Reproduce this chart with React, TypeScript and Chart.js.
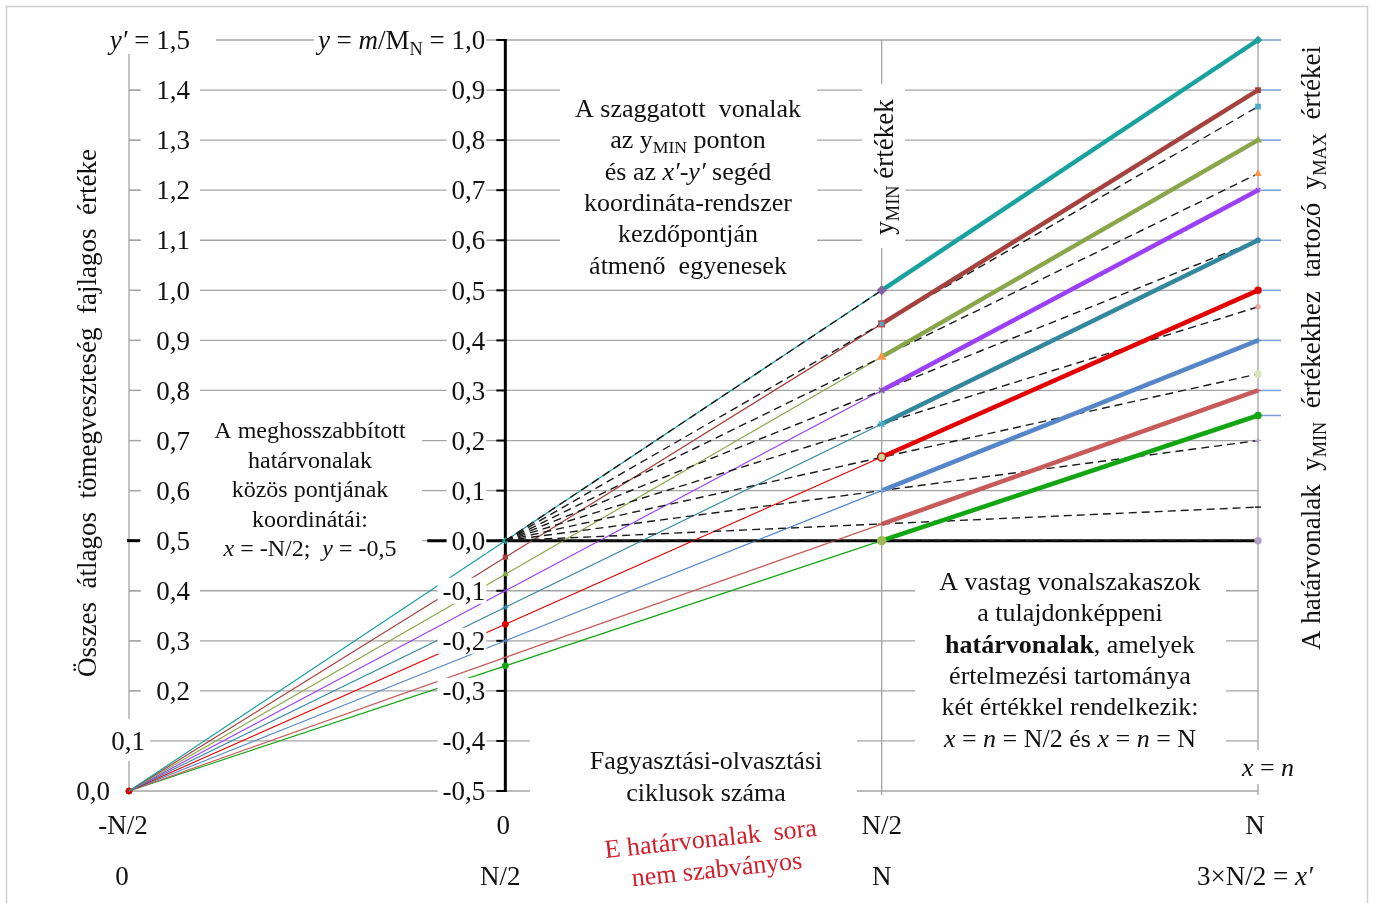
import React, { useEffect, useRef } from "react";
import { Chart, registerables } from "chart.js";
Chart.register(...registerables);

const FONT = '"Liberation Serif", "Times New Roman", serif';

// x measured in units of N:  -N/2 = -0.5, 0, N/2 = 0.5, N = 1
const xTickValues = [-0.5, 0, 0.5, 1];
const xTickLabelsN = ["-N/2", "0", "N/2", "N"];
const xTickLabelsPrime = ["0", "N/2", "N", "3×N/2 = x′"];

const yTickValues = [1.0, 0.9, 0.8, 0.7, 0.6, 0.5, 0.4, 0.3, 0.2, 0.1, 0.0, -0.1, -0.2, -0.3, -0.4, -0.5];
const yTickLabels = ["1,0", "0,9", "0,8", "0,7", "0,6", "0,5", "0,4", "0,3", "0,2", "0,1", "0,0", "-0,1", "-0,2", "-0,3", "-0,4", "-0,5"];
const yPrimeLabels = ["1,5", "1,4", "1,3", "1,2", "1,1", "1,0", "0,9", "0,8", "0,7", "0,6", "0,5", "0,4", "0,3", "0,2", "0,1", "0,0"];

// common point of the extended boundary lines
const commonX = -0.5;
const commonY = -0.5;
const xMinPoint = 0.5; // x = n = N/2
const xMaxPoint = 1; // x = n = N

const seriesColors = ["#17a19f", "#a5423e", "#8aa64b", "#9b40f7", "#33879f", "#e20000", "#5586c8", "#c75b5a", "#12a612"];
const yMinValues = [0.5, 0.433, 0.367, 0.3, 0.233, 0.167, 0.1, 0.033, 0.0];
const yMaxValues = [1.0, 0.9, 0.8, 0.7, 0.6, 0.5, 0.4, 0.3, 0.25];
const yAtZeroValues = [0.0, -0.033, -0.067, -0.1, -0.133, -0.167, -0.2, -0.233, -0.25];
const yDashEndValues = [1.0, 0.867, 0.733, 0.6, 0.467, 0.333, 0.2, 0.067, 0.0];

const markerStyles = ["rectRot", "rect", "triangle", "crossRot", "star", "circle", "cross", "line", "circle"];
const midMarkerFill = ["#8064a2", "#4bacc6", "#f79646", "#8064a2", "#4bacc6", "#c3d69b", "#4f81bd", "#93cddd", "#9bbb59"];
const midMarkerBorder = ["#8064a2", "#c0504d", "#f79646", "#8064a2", "#4bacc6", "#d00000", "#7f9fd0", "#c0504d", "#9bbb59"];
const dashMarkerColors = ["#8064a2", "#4bacc6", "#f79646", "#8064a2", "#e6a3a3", "#d7e4bd", "#b3a2c7", "#111111", "#b3a2c7"];
const startMarkerSizes = [0, 0, 0, 0, 0, 3, 0, 0, 3];

type Run = { t: string; i?: boolean; b?: boolean; sub?: boolean };
const R = (t: string, o: Partial<Run> = {}): Run => ({ t, ...o });

function setFont(ctx: CanvasRenderingContext2D, size: number, r: Run) {
  const s = r.sub ? size * 0.68 : size;
  ctx.font = `${r.i ? "italic " : ""}${r.b ? "bold " : ""}${s}px ${FONT}`;
}
function runsWidth(ctx: CanvasRenderingContext2D, runs: Run[], size: number) {
  let w = 0;
  for (const r of runs) {
    setFont(ctx, size, r);
    w += ctx.measureText(r.t).width;
  }
  return w;
}
function drawRuns(
  ctx: CanvasRenderingContext2D,
  runs: Run[],
  x: number,
  yc: number,
  size: number,
  color: string,
  align: "left" | "center" | "right",
  boxPad?: [number, number, number, number]
) {
  const w = runsWidth(ctx, runs, size);
  const x0 = align === "center" ? x - w / 2 : align === "right" ? x - w : x;
  if (boxPad) {
    ctx.fillStyle = "#ffffff";
    ctx.fillRect(x0 - boxPad[0], yc - boxPad[1], w + boxPad[0] + boxPad[2], boxPad[1] + boxPad[3]);
  }
  ctx.fillStyle = color;
  ctx.textAlign = "left";
  ctx.textBaseline = "alphabetic";
  const base = yc + size * 0.34;
  let cx = x0;
  for (const r of runs) {
    setFont(ctx, size, r);
    ctx.fillText(r.t, cx, r.sub ? base + size * 0.2 : base);
    cx += ctx.measureText(r.t).width;
  }
  return { left: x0, right: x0 + w };
}
function whiteBox(ctx: CanvasRenderingContext2D, l: number, t: number, r: number, b: number) {
  ctx.fillStyle = "#ffffff";
  ctx.fillRect(l, t, r - l, b - t);
}
function block(ctx: CanvasRenderingContext2D, lines: Run[][], cx: number, cy: number, lh: number, size: number, color = "#111") {
  lines.forEach((ln, k) => drawRuns(ctx, ln, cx, cy + k * lh, size, color, "center"));
}

const block1: Run[][] = [
  [R("A szaggatott  vonalak")],
  [R("az y"), R("MIN", { sub: true }), R(" ponton")],
  [R("és az "), R("x′", { i: true }), R("-"), R("y′", { i: true }), R(" segéd")],
  [R("koordináta-rendszer")],
  [R("kezdőpontján")],
  [R("átmenő  egyenesek")],
];
const block2: Run[][] = [
  [R("A meghosszabbított")],
  [R("határvonalak")],
  [R("közös pontjának")],
  [R("koordinátái:")],
  [R("x", { i: true }), R(" = -N/2;  "), R("y", { i: true }), R(" = -0,5")],
];
const block3: Run[][] = [
  [R("A vastag vonalszakaszok")],
  [R("a tulajdonképpeni")],
  [R("határvonalak", { b: true }), R(", amelyek")],
  [R("értelmezési tartománya")],
  [R("két értékkel rendelkezik:")],
  [R("x", { i: true }), R(" = "), R("n", { i: true }), R(" = N/2 és "), R("x", { i: true }), R(" = "), R("n", { i: true }), R(" = N")],
];
const block4: Run[][] = [[R("Fagyasztási-olvasztási")], [R("ciklusok száma")]];

const annotPlugin = {
  id: "annot",
  beforeDatasetsDraw(chart: any) {
    const ctx: CanvasRenderingContext2D = chart.ctx;
    const xs = chart.scales.x;
    const ys = chart.scales.y;
    const X = (v: number) => xs.getPixelForValue(v);
    const Y = (v: number) => ys.getPixelForValue(v);
    const line = (a: number, b: number, c: number, d: number) => {
      ctx.beginPath();
      ctx.moveTo(a, b);
      ctx.lineTo(c, d);
      ctx.stroke();
    };
    ctx.save();
    ctx.strokeStyle = "#a4a4a4";
    ctx.lineWidth = 1.3;
    yTickValues.forEach((v) => line(X(-0.5), Y(v), X(1), Y(v)));
    line(X(-0.5), Y(1), X(-0.5), Y(-0.5));
    line(X(0.5), Y(1), X(0.5), Y(-0.5) + 4);
    line(X(1), Y(1), X(1), Y(-0.5) + 4);
    yTickValues.forEach((v) => {
      if (v <= 0.9 && v >= -0.3 && Math.abs(v) > 1e-9) line(X(-0.5), Y(v), X(-0.5) + 11, Y(v));
    });
    // blue yMAX ticks at x = N
    ctx.strokeStyle = "#7b9ed6";
    ctx.lineWidth = 1.5;
    yMaxValues.forEach((v) => line(X(1), Y(v), X(1) + 23, Y(v)));
    // black axes
    ctx.strokeStyle = "#000";
    ctx.lineWidth = 3;
    line(X(0), Y(1) - 1, X(0), Y(-0.5) + 1);
    line(X(0) - 78, Y(0), X(1), Y(0));
    line(X(-0.5) - 2, Y(0), X(-0.5) + 11, Y(0));
    ctx.lineWidth = 2;
    yTickValues.forEach((v) => line(X(0) - 9, Y(v), X(0), Y(v)));
    ctx.restore();
  },
  afterDatasetsDraw(chart: any) {
    const ctx: CanvasRenderingContext2D = chart.ctx;
    const xs = chart.scales.x;
    const ys = chart.scales.y;
    const X = (v: number) => xs.getPixelForValue(v);
    const Y = (v: number) => ys.getPixelForValue(v);
    ctx.save();
    const TS = 27;
    const INK = "#111";
    // left y' tick labels
    yPrimeLabels.forEach((lab, k) => {
      const yc = Y(yTickValues[k]);
      if (k === 0) {
        whiteBox(ctx, 92, yc - 14, 216, yc + 14);
        drawRuns(ctx, [R("y′", { i: true }), R(" = " + lab)], X(-0.5) + 61, yc, TS, INK, "right");
      } else if (k === yPrimeLabels.length - 2) {
        whiteBox(ctx, X(-0.5) - 24, yc - 22, X(-0.5) + 21, yc + 20);
        drawRuns(ctx, [R(lab)], X(-0.5) + 16, yc, TS, INK, "right");
      } else if (k === yPrimeLabels.length - 1) {
        drawRuns(ctx, [R(lab)], X(-0.5) - 19, yc, TS, INK, "right");
      } else {
        whiteBox(ctx, X(-0.5) + 12, yc - 14, X(-0.5) + 71, yc + 14);
        drawRuns(ctx, [R(lab)], X(-0.5) + 61, yc, TS, INK, "right");
      }
    });
    // y tick labels next to x = 0 axis
    yTickLabels.forEach((lab, k) => {
      const yc = Y(yTickValues[k]);
      if (k === 0) {
        drawRuns(
          ctx,
          [R("y", { i: true }), R(" = "), R("m", { i: true }), R("/M"), R("N", { sub: true }), R(" = " + lab)],
          X(0) - 20,
          yc,
          TS,
          INK,
          "right",
          [4, 14, 1, 14]
        );
      } else {
        drawRuns(ctx, [R(lab)], X(0) - 20, yc, TS, INK, "right", [5, 13, 1, 13]);
      }
    });
    // text blocks
    whiteBox(ctx, 560, 80, 817, 281);
    block(ctx, block1, 688, 108, 31.4, 26);
    whiteBox(ctx, 198, 410, 422, 563);
    block(ctx, block2, 310, 430, 29.5, 24);
    whiteBox(ctx, 915, 565, 1226, 753);
    block(ctx, block3, 1070, 581, 31.4, 26);
    whiteBox(ctx, 530, 726, 857, 810);
    block(ctx, block4, 706, 760, 32, 26);
    drawRuns(ctx, [R("x", { i: true }), R(" = "), R("n", { i: true })], X(1) + 10, 767, 26, INK, "center", [6, 17, 6, 17]);
    // yMIN értékek (vertical)
    whiteBox(ctx, 862, 84, 905, 248);
    ctx.save();
    ctx.translate(884, 167);
    ctx.rotate(-Math.PI / 2);
    drawRuns(ctx, [R("y"), R("MIN", { sub: true }), R(" értékek")], 0, 0, 27, INK, "center");
    ctx.restore();
    // left vertical title
    ctx.save();
    ctx.translate(87, 413);
    ctx.rotate(-Math.PI / 2);
    drawRuns(ctx, [R("Összes  átlagos  tömegveszteség  fajlagos  értéke")], 0, 0, 27, INK, "center");
    ctx.restore();
    // right vertical title
    ctx.save();
    ctx.translate(1311, 348);
    ctx.rotate(-Math.PI / 2);
    drawRuns(
      ctx,
      [R("A határvonalak  y"), R("MIN", { sub: true }), R("  értékekhez  tartozó  y"), R("MAX", { sub: true }), R("  értékei")],
      0,
      0,
      27,
      INK,
      "center"
    );
    ctx.restore();
    // x tick labels (two rows)
    const off1 = [-6, -2, 0, -3];
    const off2 = [-7, -5, 0, -3];
    xTickValues.forEach((v, k) => {
      drawRuns(ctx, [R(xTickLabelsN[k])], X(v) + off1[k], 825, TS, INK, "center");
      const lab = xTickLabelsPrime[k];
      if (lab.endsWith("x′")) {
        drawRuns(ctx, [R(lab.slice(0, -2)), R("x′", { i: true })], X(v) + off2[k], 876, TS, INK, "center");
      } else {
        drawRuns(ctx, [R(lab)], X(v) + off2[k], 876, TS, INK, "center");
      }
    });
    // red rotated note
    ctx.save();
    ctx.translate(712, 852);
    ctx.rotate((-6 * Math.PI) / 180);
    drawRuns(ctx, [R("E határvonalak  sora")], 0, -14, 26, "#d0202c", "center");
    drawRuns(ctx, [R("nem szabványos")], 3, 17, 26, "#d0202c", "center");
    ctx.restore();
    // frame
    ctx.strokeStyle = "#cfcfcf";
    ctx.lineWidth = 1.5;
    ctx.strokeRect(6.5, 6.5, 1361, 1000);
    ctx.restore();
  },
};

export default function App() {
  const ref = useRef<HTMLCanvasElement | null>(null);
  useEffect(() => {
    if (!ref.current) return;
    const datasets: any[] = [];
    for (let i = 0; i < seriesColors.length; i++) {
      datasets.push({
        label: "thin" + i,
        data: [
          { x: commonX, y: commonY },
          { x: 0, y: yAtZeroValues[i] },
          { x: xMinPoint, y: yMinValues[i] },
        ],
        showLine: true,
        borderColor: seriesColors[i],
        borderWidth: 1.2,
        pointRadius: [startMarkerSizes[i], 3, 0],
        pointStyle: markerStyles[i],
        pointBackgroundColor: seriesColors[i],
        pointBorderColor: seriesColors[i],
        pointBorderWidth: 1,
        order: 3,
        clip: false,
      });
      datasets.push({
        label: "thick" + i,
        data: [
          { x: xMinPoint, y: yMinValues[i] },
          { x: xMaxPoint, y: yMaxValues[i] },
        ],
        showLine: true,
        borderColor: seriesColors[i],
        borderWidth: 4.5,
        pointRadius: [4, 3],
        pointStyle: markerStyles[i],
        pointBackgroundColor: [midMarkerFill[i], seriesColors[i]],
        pointBorderColor: [midMarkerBorder[i], seriesColors[i]],
        pointBorderWidth: 1.5,
        order: 1,
        clip: false,
      });
      datasets.push({
        label: "dash" + i,
        data: [
          { x: 0, y: 0 },
          { x: xMaxPoint, y: yDashEndValues[i] },
        ],
        showLine: true,
        borderColor: "#1a1a1a",
        borderWidth: 1.4,
        borderDash: [8, 5],
        pointRadius: [0, 3],
        pointStyle: markerStyles[i],
        pointBackgroundColor: dashMarkerColors[i],
        pointBorderColor: dashMarkerColors[i],
        order: 2,
        clip: false,
      });
    }
    const chart = new Chart(ref.current, {
      type: "scatter",
      data: { datasets },
      options: {
        responsive: false,
        maintainAspectRatio: false,
        animation: false,
        events: [],
        layout: { padding: { left: 129, right: 117, top: 40, bottom: 112 } },
        scales: {
          x: { type: "linear", min: -0.5, max: 1, display: false },
          y: { type: "linear", min: -0.5, max: 1, display: false },
        },
        plugins: { legend: { display: false }, tooltip: { enabled: false } },
      } as any,
      plugins: [annotPlugin as any],
    });
    return () => chart.destroy();
  }, []);
  return (
    <div style={{ position: "absolute", left: 0, top: 0, width: 1375, height: 903, background: "#fff" }}>
      <canvas ref={ref} width={1375} height={903} style={{ display: "block", width: 1375, height: 903 }} />
    </div>
  );
}
